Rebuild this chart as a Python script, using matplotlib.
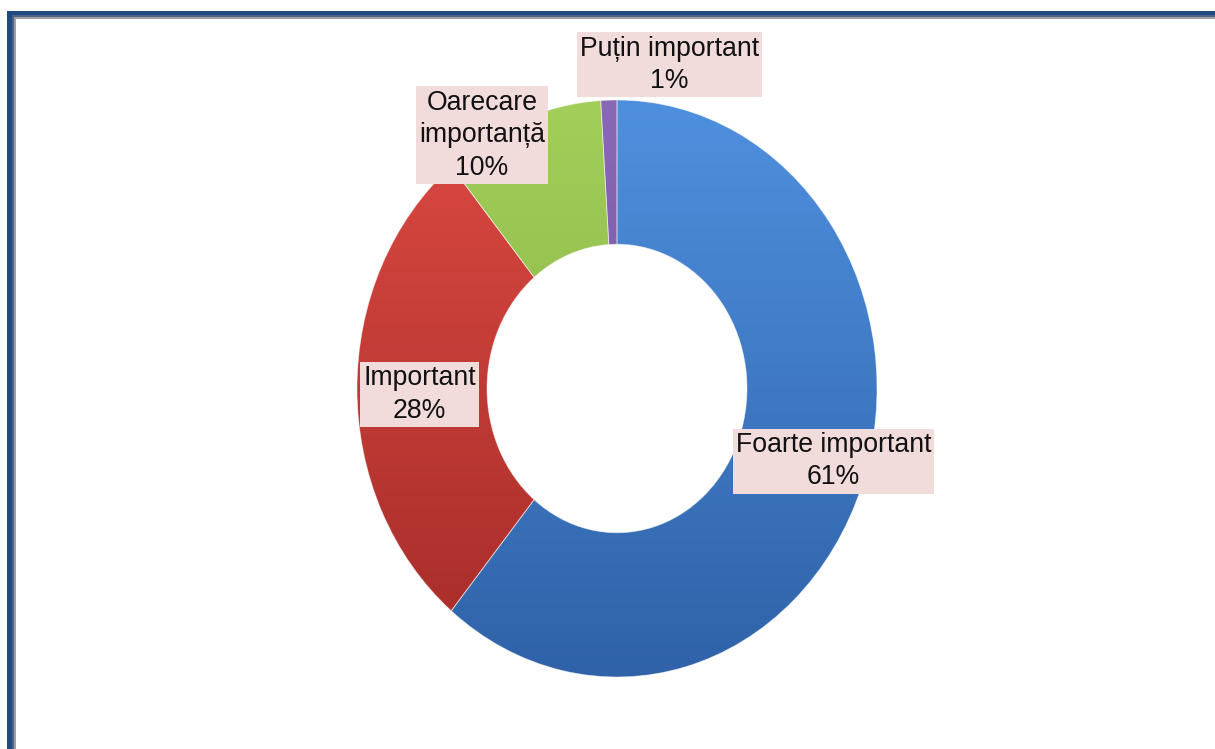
import numpy as np
import matplotlib
matplotlib.use('Agg')
import matplotlib.pyplot as plt
from matplotlib.patches import Rectangle
from matplotlib.colors import LinearSegmentedColormap

# chart data (share of answers, %)
categories = ['Foarte important', 'Important', 'Oarecare\nimportanță', 'Puțin important']
values = [61, 28, 10, 1]

# gradient top/bottom colours for each slice
top_colors = ['#4f90de', '#dc4a42', '#a2cf5a', '#8a68b8']
bot_colors = ['#2f62a8', '#a52b29', '#7fa83c', '#6a4c96']

# label placement: radius factor and angle nudge (deg) from slice middle
lab_r = [0.87, 0.76, 1.02, 1.14]
lab_da = [3, 1.5, 9, -12]

plt.rcParams['font.family'] = ['Liberation Sans', 'DejaVu Sans']

fig = plt.figure(figsize=(12.15, 7.49), dpi=100)
W, H = 1215, 749

# frame on left and top
def frect(x0, y0, x1, y1, c):
    fig.patches.append(Rectangle((x0 / W, 1 - y1 / H), (x1 - x0) / W, (y1 - y0) / H,
                                 transform=fig.transFigure, fc=c, ec='none', zorder=0))
frect(7, 11, 1215, 15, '#1f4a82')
frect(12, 15, 1215, 17, '#4f6384')
frect(14, 17, 1215, 19, '#a0a0a0')
frect(7, 11, 12, 749, '#1f4a82')
frect(12, 15, 14, 749, '#4f6384')
frect(14, 17, 16, 749, '#a0a0a0')

# axes box matches the (slightly tall) ellipse of the donut
ax = fig.add_axes([357 / W, 1 - 677 / H, 520 / W, 577 / H])
ax.axis('off')

wedges, _ = ax.pie(values, startangle=90, counterclock=False, radius=1,
                   wedgeprops=dict(width=0.5, edgecolor='none'), normalize=True)
ax.set_xlim(-1, 1)
ax.set_ylim(-1, 1)
ax.set_aspect('auto')

grad = np.linspace(1, 0, 256).reshape(-1, 1)
for w, c0, c1 in zip(wedges, top_colors, bot_colors):
    w.set_facecolor('none')
    cmap = LinearSegmentedColormap.from_list('g', [c1, c0])
    im = ax.imshow(grad, extent=(-1, 1, -1, 1), cmap=cmap, aspect='auto',
                   origin='upper', zorder=1, vmin=0, vmax=1)
    im.set_clip_path(w)
    w.set_edgecolor((1, 1, 1, 0.5))
    w.set_linewidth(0.6)
    w.set_zorder(2)

# labels
for w, name, v, r, da in zip(wedges, categories, values, lab_r, lab_da):
    mid = np.deg2rad((w.theta1 + w.theta2) / 2 + da)
    ax.text(r * np.cos(mid), r * np.sin(mid), f'{name}\n{v}%', ha='center', va='center',
            fontsize=19.2, linespacing=1.33, color='#111111', zorder=5,
            bbox=dict(boxstyle='square,pad=0.12', fc='#f2dcdb', ec='none'))

fig.savefig('out.png', dpi=100)
